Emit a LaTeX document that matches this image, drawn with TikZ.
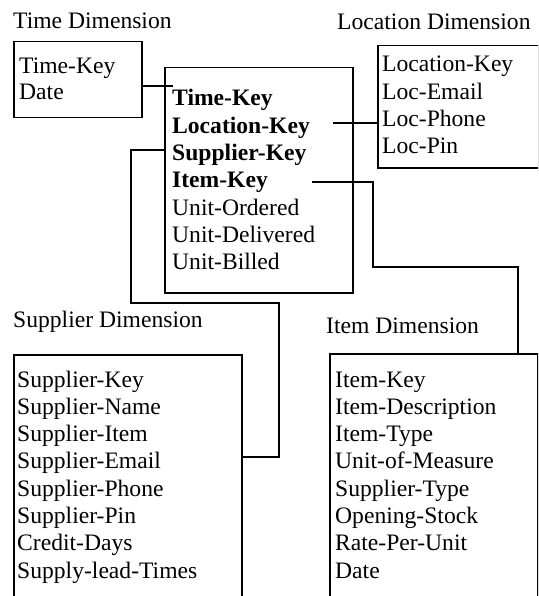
\documentclass[tikz,border=0pt]{standalone}
\usepackage{fontspec}
\setmainfont{Liberation Serif}
\begin{document}
\begin{tikzpicture}[x=1pt,y=-1pt,
  box/.style={draw,line width=1.5pt,rectangle,inner sep=0pt,anchor=north west},
  conn/.style={draw,line width=1.5pt},
  txt/.style={anchor=base west,inner sep=0pt,font=\fontsize{23.6}{27.3}\selectfont},
  btxt/.style={txt,font=\fontsize{23.6}{27.3}\selectfont\bfseries}]
\useasboundingbox (0,0) rectangle (538,596);
\clip (0,0) rectangle (538,596);
% boxes
\node[box,minimum width=128pt,minimum height=76pt] (time) at (13,41) {};
\node[box,minimum width=188pt,minimum height=225pt] (fact) at (164,67) {};
\node[box,minimum width=161pt,minimum height=122pt] (loc) at (377,45) {};
\node[box,minimum width=228pt,minimum height=280pt] (sup) at (13,354) {};
\node[box,minimum width=208pt,minimum height=280pt] (item) at (329,353) {};
% titles
\node[txt] (ttime) at (13,29) {Time Dimension};
\node[txt] (tloc) at (337,30) {Location Dimension};
\node[txt] (tsup) at (13,327) {Supplier Dimension};
\node[txt] (titem) at (326,333) {Item Dimension};
% time box
\node[txt] (t1) at (19,74) {Time-Key};
\node[txt] (t2) at (19,100) {Date};
% fact box
\node[btxt] (f1) at (172,106) {Time-Key};
\node[btxt] (f2) at (172,133.3) {Location-Key};
\node[btxt] (f3) at (172,160.6) {Supplier-Key};
\node[btxt] (f4) at (172,187.9) {Item-Key};
\node[txt] (f5) at (172,215.2) {Unit-Ordered};
\node[txt] (f6) at (172,242.5) {Unit-Delivered};
\node[txt] (f7) at (172,269.8) {Unit-Billed};
% location box
\node[txt] (l1) at (382,72) {Location-Key};
\node[txt] (l2) at (382,99.3) {Loc-Email};
\node[txt] (l3) at (382,126.6) {Loc-Phone};
\node[txt] (l4) at (382,153.9) {Loc-Pin};
% supplier box
\foreach \s [count=\i from 0] in {Supplier-Key,Supplier-Name,Supplier-Item,Supplier-Email,Supplier-Phone,Supplier-Pin,Credit-Days,Supply-lead-Times}
  \node[txt] (s\i) at (17,387+27.3*\i) {\s};
% item box
\foreach \s [count=\i from 0] in {Item-Key,Item-Description,Item-Type,Unit-of-Measure,Supplier-Type,Opening-Stock,Rate-Per-Unit,Date}
  \node[txt] (it\i) at (335,387+27.3*\i) {\s};
% connector coordinates
\coordinate (ctime) at (173,86);
\coordinate (cs1) at (131,150);
\coordinate (cs2) at (131,303);
\coordinate (cs3) at (279,303);
\coordinate (cs4) at (279,457);
\coordinate (cl) at (333,123);
\coordinate (ci1) at (312,182);
\coordinate (ci2) at (373,182);
\coordinate (ci3) at (373,267);
\coordinate (ci4) at (518,267);
% connectors
\draw[conn] (time.east |- ctime) -- (ctime);
\draw[conn] (fact.west |- cs1) -- (cs1) -- (cs2) -- (cs3) -- (cs4) -- (sup.east |- cs4);
\draw[conn] (cl) -- (loc.west |- cl);
\draw[conn] (ci1) -- (ci2) -- (ci3) -- (ci4) -- (ci4 |- item.north);
\end{tikzpicture}
\end{document}
